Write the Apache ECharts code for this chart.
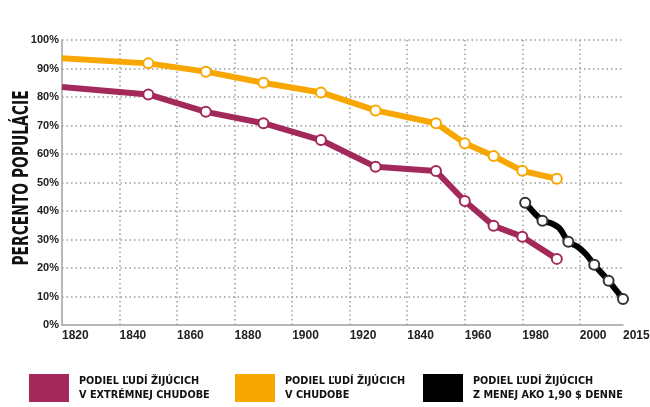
<!DOCTYPE html>
<html>
<head>
<meta charset="utf-8">
<script src="https://cdn.jsdelivr.net/npm/echarts@6/dist/echarts.min.js"></script>
</head>
<body style="margin:0;background:#fff;">
<div id="chart" style="width:650px;height:407px;"></div>
<script type="text/javascript">
    // roky a hodnoty (v %) odčítané z grafu
    var extremeYears = [1820, 1850, 1870, 1890, 1910, 1929, 1950, 1960, 1970, 1980, 1992];
    var extremeVals = [83.5, 80.9, 74.8, 70.8, 64.9, 55.5, 54.0, 43.5, 34.8, 31.0, 23.2];
    var povertyYears = [1820, 1850, 1870, 1890, 1910, 1929, 1950, 1960, 1970, 1980, 1992];
    var povertyVals = [93.6, 91.8, 88.9, 85.0, 81.6, 75.3, 70.8, 63.8, 59.3, 54.1, 51.3];
    var dollarYears = [1981, 1987, 1990, 1993, 1996, 1999, 2002, 2005, 2010, 2015];
    var dollarVals = [42.9, 36.6, 35.7, 33.8, 29.2, 27.6, 25.0, 21.1, 15.5, 9.1];
    // body bez krúžku
    var noMarkYears = [1820];
    var dollarNoMark = [1990, 1993, 1999, 2002];

    // popisky osi x (tak ako v predlohe)
    var xTicks = [1820, 1840, 1860, 1880, 1900, 1920, 1940, 1960, 1980, 2000, 2015];
    var xLabels = ['1820', '1840', '1860', '1880', '1900', '1920', '1840', '1960', '1980', '2000', '2015'];

    var names = [
        'PODIEL ĽUDÍ ŽIJÚCICH\nV EXTRÉMNEJ CHUDOBE',
        'PODIEL ĽUDÍ ŽIJÚCICH\nV CHUDOBE',
        'PODIEL ĽUDÍ ŽIJÚCICH\nZ MENEJ AKO 1,90 $ DENNE'
    ];
    var colors = ['#a3295a', '#f8a600', '#000000'];

    var narrow = "'Liberation Sans Narrow', 'DejaVu Sans Condensed', sans-serif";

    function pairs(xs, ys, hidden) {
        var out = [];
        for (var i = 0; i < xs.length; i++) {
            var item = { value: [xs[i], ys[i]] };
            if (hidden.indexOf(xs[i]) >= 0) {
                item.symbol = 'none';
            }
            out.push(item);
        }
        return out;
    }

    function legendAt(idx, left) {
        return {
            left: left,
            top: 374,
            padding: 0,
            icon: 'rect',
            itemWidth: 40,
            itemHeight: 28,
            itemGap: 0,
            selectedMode: false,
            data: [{ name: names[idx], itemStyle: { color: colors[idx], borderWidth: 0 } }],
            textStyle: {
                fontFamily: narrow,
                fontWeight: 'bold',
                fontSize: 10.8,
                lineHeight: 14,
                color: '#111',
                padding: [0, 0, 0, 5]
            }
        };
    }

    function lineSeries(idx, data) {
        return {
            name: names[idx],
            type: 'line',
            data: data,
            symbol: 'emptyCircle',
            symbolSize: 10,
            color: colors[idx],
            lineStyle: { width: 6, color: colors[idx] },
            itemStyle: { color: idx === 2 ? '#333' : colors[idx], borderWidth: 1 }
        };
    }

    var chart = echarts.init(document.getElementById('chart'));
    var gridLine = { color: '#9a9a9a', width: 1.5, type: [1.5, 3] };

    var dollarSeries = lineSeries(2, pairs(dollarYears, dollarVals, dollarNoMark));
    dollarSeries.smooth = 0.35;

    var option = {
        animation: false,
        backgroundColor: '#fff',
        grid: { left: 62, right: 27, top: 40, bottom: 82, containLabel: false, outerBoundsMode: 'none' },
        legend: [legendAt(0, 29), legendAt(1, 235), legendAt(2, 423)],
        graphic: [{
            type: 'text',
            x: 22,
            y: 178,
            rotation: Math.PI / 2,
            scaleX: 0.7,
            style: {
                text: 'PERCENTO POPULÁCIE',
                fontFamily: narrow,
                fontWeight: 'bold',
                fontSize: 22,
                fill: '#111',
                align: 'center',
                verticalAlign: 'middle'
            }
        }],
        xAxis: {
            type: 'value',
            min: 1820,
            max: 2015,
            interval: 20,
            axisLine: { show: true, lineStyle: { color: '#a0a0a0', width: 1.5 } },
            axisTick: { show: false },
            axisLabel: {
                align: 'left',
                margin: 5,
                fontFamily: 'Liberation Sans, Arial, sans-serif',
                fontWeight: 'bold',
                fontSize: 12,
                color: '#222',
                showMaxLabel: true,
                formatter: function (v) {
                    var i = xTicks.indexOf(v);
                    return i >= 0 ? xLabels[i] : '';
                }
            },
            splitLine: { show: true, showMinLine: false, showMaxLine: false, lineStyle: gridLine }
        },
        yAxis: {
            type: 'value',
            min: 0,
            max: 100,
            interval: 10,
            axisLine: { show: true, lineStyle: { color: '#a0a0a0', width: 1.5 } },
            axisTick: { show: false },
            axisLabel: {
                margin: 3,
                fontFamily: 'Liberation Sans, Arial, sans-serif',
                fontWeight: 'bold',
                fontSize: 11,
                color: '#222',
                formatter: '{value}%'
            },
            splitLine: { show: true, showMinLine: false, lineStyle: gridLine }
        },
        series: [
            lineSeries(0, pairs(extremeYears, extremeVals, noMarkYears)),
            lineSeries(1, pairs(povertyYears, povertyVals, noMarkYears)),
            dollarSeries
        ]
    };
    chart.setOption(option);
</script>
</body>
</html>
